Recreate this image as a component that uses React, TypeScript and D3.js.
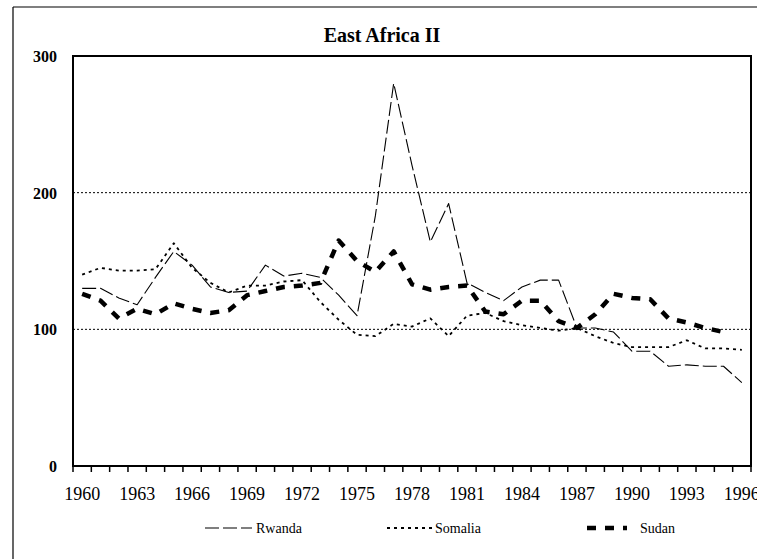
import React from 'react';
import * as d3 from 'd3';

const years: number[] = [
  1960, 1961, 1962, 1963, 1964, 1965, 1966, 1967, 1968, 1969,
  1970, 1971, 1972, 1973, 1974, 1975, 1976, 1977, 1978, 1979,
  1980, 1981, 1982, 1983, 1984, 1985, 1986, 1987, 1988, 1989,
  1990, 1991, 1992, 1993, 1994, 1995, 1996,
];
const tickLabelYears: number[] = [1960, 1963, 1966, 1969, 1972, 1975, 1978, 1981, 1984, 1987, 1990, 1993, 1996];
const yTicks: number[] = [0, 100, 200, 300];
const gridValues: number[] = [100, 200];

const rwanda: (number | null)[] = [
  130, 130, 123, 118, 138, 157, 147, 131, 127, 128,
  147, 139, 141, 138, 125, 110, 183, 280, 220, 164,
  192, 134, 127, 121, 131, 136, 136, 101, 101, 98,
  84, 84, 73, 74, 73, 73, 61,
];
const somalia: (number | null)[] = [
  140, 145, 143, 143, 144, 163, 145, 134, 127, 132,
  132, 135, 136, 120, 107, 96, 95, 104, 102, 108,
  95, 110, 112, 106, 103, 101, 99, 101, 95, 90,
  87, 87, 87, 92, 86, 86, 85,
];
const sudan: (number | null)[] = [
  126, 121, 108, 115, 111, 119, 115, 112, 114, 125,
  128, 131, 132, 134, 165, 150, 142, 157, 133, 129,
  131, 132, 113, 111, 121, 121, 106, 101, 111, 126,
  123, 122, 108, 105, 101, 98, null,
];

const seriesNames = ['Rwanda', 'Somalia', 'Sudan'];

const W = 757;
const H = 559;
const plot = { left: 73, right: 751, top: 56, bottom: 466 };
const FONT = '"Liberation Serif", "Times New Roman", Times, "DejaVu Serif", serif';

const styles: Record<string, { width: number; dash: string }> = {
  Rwanda: { width: 1.1, dash: '14,4' },
  Somalia: { width: 1.8, dash: '3,4' },
  Sudan: { width: 4.5, dash: '9,9' },
};

export default function App() {
  const x = d3.scaleBand<number>().domain(years).range([plot.left, plot.right]).padding(0);
  const y = d3.scaleLinear().domain([0, 300]).range([plot.bottom, plot.top]);
  const bw = x.bandwidth();
  const cx = (yr: number) => (x(yr) as number) + bw / 2;

  const line = d3
    .line<number | null>()
    .defined((d) => d != null)
    .x((_, i) => cx(years[i]))
    .y((d) => y(d as number));

  const data: Record<string, (number | null)[]> = { Rwanda: rwanda, Somalia: somalia, Sudan: sudan };

  const boundaries = years.map((yr) => x(yr) as number).concat([plot.right]);

  const legend = [
    { name: 'Rwanda', x0: 205, x1: 252, tx: 256 },
    { name: 'Somalia', x0: 387, x1: 432, tx: 435 },
    { name: 'Sudan', x0: 587, x1: 627, tx: 640 },
  ];
  const legendY = 528;
  const tStyle = { fontFamily: FONT };

  return (
    <svg
      width={W}
      height={H}
      style={{ position: 'absolute', left: 0, top: 0, background: '#fff', fontFamily: FONT }}
    >
      <rect x={0} y={0} width={W} height={H} fill="#fff" />
      <line x1={13} y1={7} x2={W} y2={7} stroke="#000" strokeWidth={1.2} />
      <line x1={13} y1={7} x2={13} y2={H} stroke="#000" strokeWidth={1.2} />

      <text x={382} y={42} textAnchor="middle" fontSize={20} fontWeight="bold" style={tStyle}>
        East Africa II
      </text>

      {gridValues.map((v) => (
        <line
          key={v}
          x1={plot.left}
          x2={plot.right}
          y1={y(v)}
          y2={y(v)}
          stroke="#000"
          strokeWidth={1}
          strokeDasharray="2,2"
        />
      ))}

      <rect
        x={plot.left}
        y={plot.top}
        width={plot.right - plot.left}
        height={plot.bottom - plot.top}
        fill="none"
        stroke="#000"
        strokeWidth={2}
      />

      {yTicks.map((v) => (
        <text key={v} x={57} y={y(v) + 6} textAnchor="end" fontSize={16} fontWeight="bold" style={tStyle}>
          {v}
        </text>
      ))}

      {boundaries.map((bx, i) => (
        <line key={i} x1={bx} x2={bx} y1={plot.bottom} y2={plot.bottom + 6} stroke="#000" strokeWidth={1.5} />
      ))}
      {tickLabelYears.map((yr) => (
        <text key={yr} x={cx(yr)} y={500} textAnchor="middle" fontSize={18} style={tStyle}>
          {yr}
        </text>
      ))}

      {seriesNames.map((n) => (
        <path
          key={n}
          d={line(data[n]) || ''}
          fill="none"
          stroke="#000"
          strokeWidth={styles[n].width}
          strokeDasharray={styles[n].dash}
          strokeLinejoin="round"
        />
      ))}

      {legend.map((l) => (
        <g key={l.name}>
          <line
            x1={l.x0}
            x2={l.x1}
            y1={legendY}
            y2={legendY}
            stroke="#000"
            strokeWidth={styles[l.name].width}
            strokeDasharray={styles[l.name].dash}
          />
          <text x={l.tx} y={legendY + 5} fontSize={14} style={tStyle}>
            {l.name}
          </text>
        </g>
      ))}
    </svg>
  );
}
